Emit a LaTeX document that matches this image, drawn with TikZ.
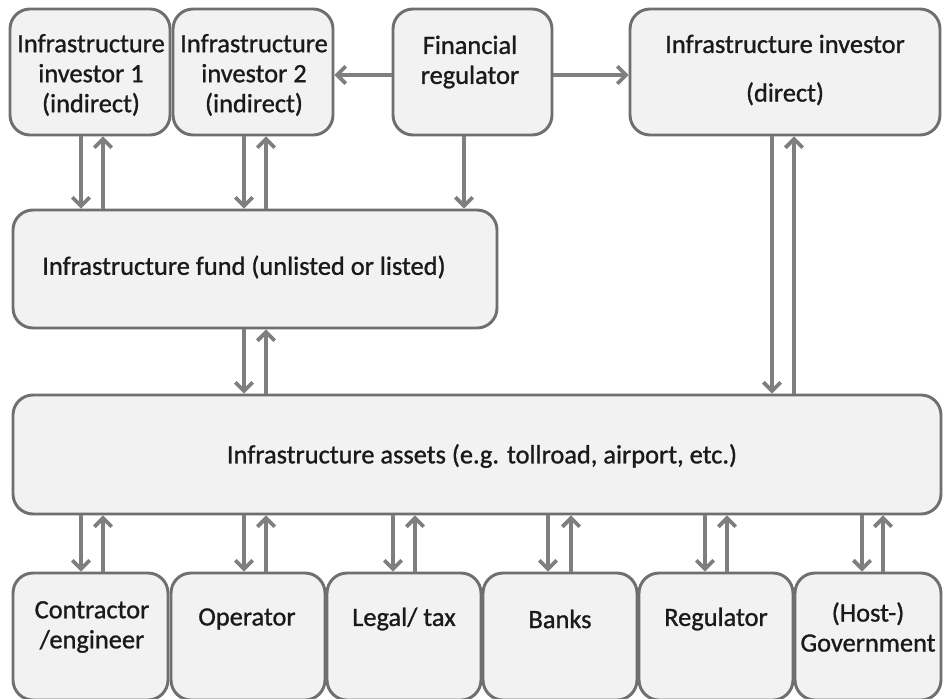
\documentclass[tikz,border=0pt]{standalone}
\usepackage{fontspec}
\setmainfont{Carlito}[FakeBold=1]
\usetikzlibrary{arrows.meta,fit}
\definecolor{boxfill}{HTML}{F2F2F2}
\definecolor{boxline}{HTML}{6F6F6F}
\definecolor{arrowgray}{HTML}{7F7F7F}
\definecolor{ink}{HTML}{1A1A1A}
\begin{document}
\begin{tikzpicture}[x=0.75pt,y=-0.75pt,
  box/.style={draw=boxline, fill=boxfill, line width=2.2pt, rounded corners=15pt, inner sep=0pt},
  lbl/.style={text=ink, align=center, inner sep=0pt, font=\fontsize{19.8pt}{22.5pt}\selectfont},
  flow/.style={draw=arrowgray, line width=2.8pt, -{Straight Barb[length=6.5pt,width=13pt]}}]
\useasboundingbox (0,0) rectangle (943,699);

% top row
\node[box, fit={(10,9) (170,135)}] (inv1) {};
\node[box, fit={(173,9) (333,135)}] (inv2) {};
\node[box, fit={(393,9) (552,135)}] (finreg) {};
\node[box, fit={(630,9) (940,135)}] (direct) {};
\node[lbl] (inv1t) at (91,75) {Infrastructure\\investor 1\\(indirect)};
\node[lbl] (inv2t) at (254,75) {Infrastructure\\investor 2\\(indirect)};
\node[lbl] (finregt) at (470,62) {Financial\\regulator};
\node[lbl] (directt) at (785,70) {Infrastructure investor\\[14pt](direct)};

% fund and assets
\node[box, fit={(13,210) (497,328)}] (fund) {};
\node[lbl] (fundt) at (244,267) {Infrastructure fund (unlisted or listed)};
\node[box, fit={(13,395) (941,514)}] (assets) {};
\node[lbl] (assetst) at (482,456) {Infrastructure assets (e.g. tollroad, airport, etc.)};

% bottom row
\node[box, fit={(13,573) (168,700)}] (con) {};
\node[box, fit={(171,573) (325,700)}] (op) {};
\node[box, fit={(327,573) (481,700)}] (legal) {};
\node[box, fit={(483,573) (637,700)}] (banks) {};
\node[box, fit={(639,573) (793,700)}] (reg) {};
\node[box, fit={(795,573) (941,700)}] (gov) {};
\node[lbl] (cont) at (92,627) {Contractor\\/engineer};
\node[lbl] (opt) at (247,619) {Operator};
\node[lbl] (legalt) at (404,619) {Legal/ tax};
\node[lbl] (bankst) at (560,619) {Banks};
\node[lbl] (regt) at (716,619) {Regulator};
\node[lbl] (govt) at (868,627) {(Host-)\\Government};

% financial regulator links
\draw[flow] (finreg.west |- 0,75) -- (inv2.east |- 0,75);
\draw[flow] (finreg.east |- 0,75) -- (direct.west |- 0,75);
\draw[flow] (464,0 |- finreg.south) -- (464,0 |- fund.north);

% investors and fund
\draw[flow] (81,0 |- inv1.south) -- (81,0 |- fund.north);
\draw[flow] (103,0 |- fund.north) -- (103,0 |- inv1.south);
\draw[flow] (244,0 |- inv2.south) -- (244,0 |- fund.north);
\draw[flow] (266,0 |- fund.north) -- (266,0 |- inv2.south);
\draw[flow] (244,0 |- fund.south) -- (244,0 |- assets.north);
\draw[flow] (266,0 |- assets.north) -- (266,0 |- fund.south);
\draw[flow] (772,0 |- direct.south) -- (772,0 |- assets.north);
\draw[flow] (794,0 |- assets.north) -- (794,0 |- direct.south);

% assets and service providers
\draw[flow] (81,0 |- assets.south) -- (81,0 |- con.north);
\draw[flow] (103,0 |- con.north) -- (103,0 |- assets.south);
\draw[flow] (244,0 |- assets.south) -- (244,0 |- op.north);
\draw[flow] (266,0 |- op.north) -- (266,0 |- assets.south);
\draw[flow] (393,0 |- assets.south) -- (393,0 |- legal.north);
\draw[flow] (415,0 |- legal.north) -- (415,0 |- assets.south);
\draw[flow] (548,0 |- assets.south) -- (548,0 |- banks.north);
\draw[flow] (571,0 |- banks.north) -- (571,0 |- assets.south);
\draw[flow] (705,0 |- assets.south) -- (705,0 |- reg.north);
\draw[flow] (727,0 |- reg.north) -- (727,0 |- assets.south);
\draw[flow] (862,0 |- assets.south) -- (862,0 |- gov.north);
\draw[flow] (883,0 |- gov.north) -- (883,0 |- assets.south);
\end{tikzpicture}
\end{document}
